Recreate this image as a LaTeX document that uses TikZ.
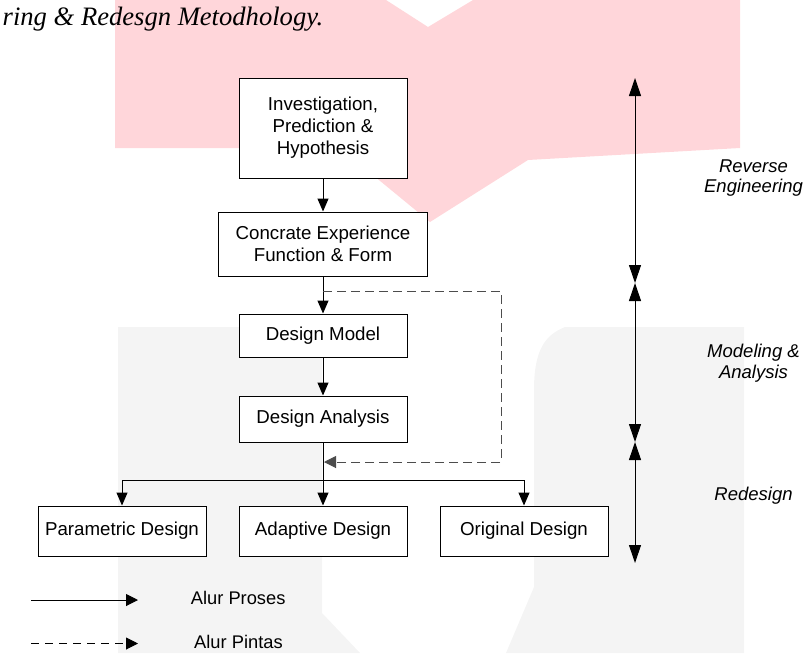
\documentclass[tikz,border=0pt]{standalone}
\usepackage{fontspec}
\setmainfont{Liberation Sans}
\newfontfamily\titlefont{Liberation Serif}
\usetikzlibrary{arrows.meta}
\definecolor{wmpink}{RGB}{255,214,218}
\definecolor{wmgray}{RGB}{244,244,244}
\begin{document}
\begin{tikzpicture}[x=1pt,y=-1pt,
  box/.style={draw=black, line width=1pt, fill=white, align=center, inner sep=0pt,
    font=\fontsize{18.7}{22}\selectfont},
  flow/.style={line width=1pt, -{Triangle[length=13pt,width=11pt]}},
  shortcut/.style={line width=1pt, draw=black!70, dash pattern=on 9pt off 5pt,
    -{Triangle[length=12pt,width=12pt]}},
  spanarrow/.style={line width=1pt, {Triangle[length=18pt,width=12pt]}-{Triangle[length=18pt,width=12pt]}},
  lbl/.style={align=center, inner sep=0pt, font=\fontsize{18.5}{20.5}\selectfont\itshape},
  legendtext/.style={anchor=base west, inner sep=0pt, font=\fontsize{18.3}{20}\selectfont}]
\clip (0,0) rectangle (805,653);
% watermark
\fill[wmpink] (115,0) -- (386,0) -- (428,27) -- (473,0) -- (740,0) -- (740,148)
  -- (528,160) -- (430,222) -- (340,148) -- (115,148) -- cycle;
\fill[wmgray] (118,327) -- (322,327) -- (322,613) -- (360,653) -- (118,653) -- cycle;
\fill[wmgray] (565,327) -- (744,327) -- (744,653) -- (506,653) -- (534,587) -- (534,390)
  .. controls (534,350) and (545,335) .. (565,327) -- cycle;
% title
\node[anchor=base east, inner sep=0pt, font=\titlefont\itshape\fontsize{26.6}{30}\selectfont]
  (title) at (323.5,25) {ring \& Redesgn Metodhology.};
% boxes
\node[box, minimum width=168pt, minimum height=100pt] (b1) at (323,128)
  {Investigation,\\Prediction \&\\Hypothesis};
\node[box, minimum width=209pt, minimum height=64pt] (b2) at (323,244)
  {Concrate Experience\\Function \& Form};
\node[box, minimum width=168pt, minimum height=43pt] (b3) at (323,335.5) {Design Model};
\node[box, minimum width=168pt, minimum height=46pt] (b4) at (323,419) {Design Analysis};
\node[box, minimum width=168pt, minimum height=50pt] (pd) at (122,531) {Parametric Design};
\node[box, minimum width=168pt, minimum height=50pt] (ad) at (323,531) {Adaptive Design};
\node[box, minimum width=168pt, minimum height=50pt] (od) at (524,531) {Original Design};
% flow connectors
\draw[flow] (b1) -- (b2);
\draw[flow] (b2) -- (b3);
\draw[flow] (b3) -- (b4);
\draw[flow] (b4) -- (ad);
\coordinate (split) at (323,480);
\draw[line width=1pt] (pd.north |- split) -- (od.north |- split);
\draw[flow] (pd.north |- split) -- (pd.north);
\draw[flow] (od.north |- split) -- (od.north);
% shortcut
\coordinate (ds) at (323,291);
\coordinate (dc1) at (501,291);
\coordinate (dc2) at (501,462);
\coordinate (de) at (324,462);
\draw[shortcut] (ds) -- (dc1) -- (dc2) -- (de);
% range arrows
\coordinate (r0) at (635,78);
\coordinate (r1) at (635,283);
\coordinate (r2) at (635,442);
\coordinate (r3) at (635,563);
\draw[spanarrow] (r0) -- (r1);
\draw[spanarrow] (r1) -- (r2);
\draw[spanarrow] (r2) -- (r3);
\node[lbl] (l1) at (753.5,178) {Reverse\\Engineering};
\node[lbl] (l2) at (753.5,363) {Modeling \&\\Analysis};
\node[lbl] (l3) at (753.5,496) {Redesign};
% legend
\coordinate (s1) at (31,600);
\coordinate (e1) at (138,600);
\coordinate (s2) at (31,643.5);
\coordinate (e2) at (138,643.5);
\draw[line width=1pt, -{Triangle[length=12pt,width=12pt]}] (s1) -- (e1);
\draw[line width=1pt, dash pattern=on 8pt off 6pt, -{Triangle[length=12pt,width=12pt]}] (s2) -- (e2);
\node[legendtext] (t1) at (190.7,604) {Alur Proses};
\node[legendtext] (t2) at (194,648) {Alur Pintas};
\end{tikzpicture}
\end{document}
